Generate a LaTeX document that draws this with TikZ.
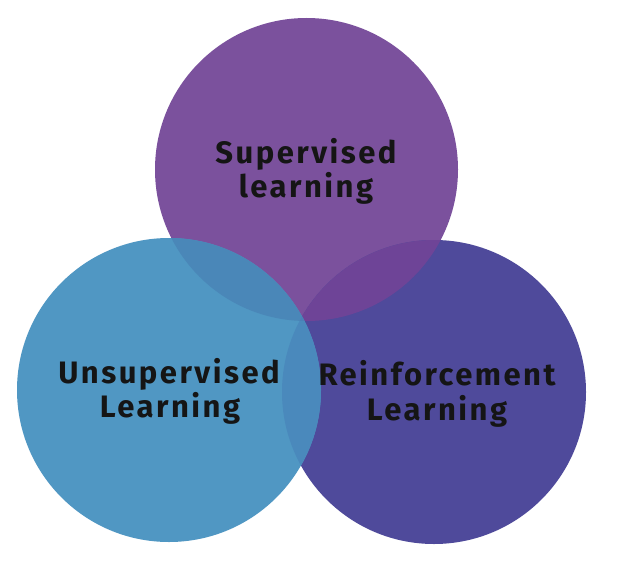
\documentclass[tikz,border=0pt]{standalone}
\usepackage{fontspec}
\setmainfont{Fira Sans}
\definecolor{purp}{HTML}{7B519D}
\definecolor{blu}{HTML}{5097C3}
\definecolor{darkp}{HTML}{4F4A9B}
\definecolor{pb}{HTML}{4A87B8}
\definecolor{pd}{HTML}{6E4497}
\definecolor{bd}{HTML}{4A89BC}
\definecolor{tri}{HTML}{4A80B6}
\definecolor{ink}{HTML}{151515}
\begin{document}
\begin{tikzpicture}[x=1pt,y=-1pt,
  lbl/.style={anchor=base, text=ink, inner sep=0pt,
    font=\fontsize{31}{36}\selectfont\bfseries\addfontfeatures{LetterSpace=8}}]
\useasboundingbox (0,0) rectangle (618,578);
\fill[white] (0,0) rectangle (618,578);
\def\circP{(306.5,169.5) circle[radius=151.5]}
\def\circB{(169,390) circle[radius=152]}
\def\circD{(434,392) circle[radius=152]}
% base discs
\fill[purp] \circP;
\fill[darkp] \circD;
\fill[blu] \circB;
% overlaps
\begin{scope}
  \clip \circP;
  \fill[pd] \circD;
  \fill[pb] \circB;
\end{scope}
\begin{scope}
  \clip \circD;
  \fill[bd] \circB;
\end{scope}
\begin{scope}
  \clip \circP;
  \clip \circD;
  \fill[tri] \circB;
\end{scope}
% labels
\node[lbl] (sup1) at (306,163) {Supervised};
\node[lbl] (sup2) at (306,197) {learning};
\node[lbl] (uns1) at (169,383) {Unsupervised};
\node[lbl] (uns2) at (170,417) {Learning};
\node[lbl] (rei1) at (437,385) {Reinforcement};
\node[lbl] (rei2) at (437,420) {Learning};
\end{tikzpicture}
\end{document}
